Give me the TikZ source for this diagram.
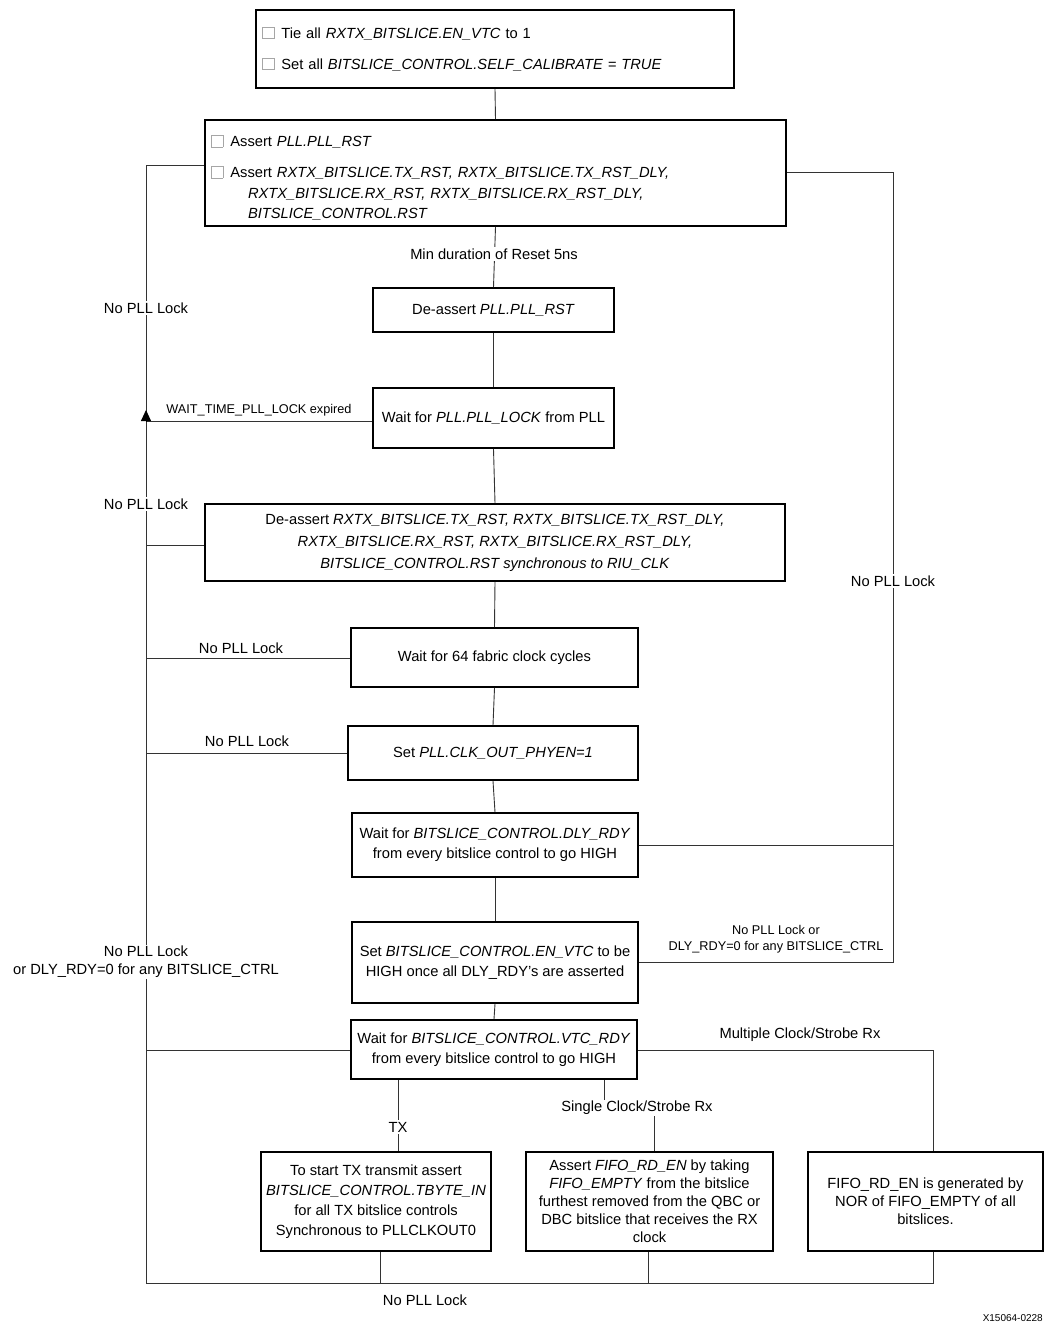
\documentclass[tikz,border=0pt]{standalone}
\usepackage{fontspec}
\setmainfont{Liberation Sans}
\usetikzlibrary{arrows.meta}
\newcommand{\chk}{{\color{gray!70}\fboxsep=0pt\fboxrule=0.7pt\fbox{\phantom{\rule{11pt}{11pt}}}}\hspace{7pt}}
\begin{document}
\begin{tikzpicture}[x=1pt,y=-1pt,
  box/.style={draw=black, line width=1.8pt, inner sep=0pt, align=center,
    font=\fontsize{14.7}{20}\selectfont},
  conn/.style={draw=black!80, line width=0.9pt},
  lbl/.style={fill=white, inner sep=1.5pt, align=center, font=\fontsize{14.7}{18}\selectfont},
  slbl/.style={inner sep=1pt, align=center, font=\fontsize{12.7}{15.5}\selectfont},
  nlbl/.style={inner sep=1pt, align=center, font=\fontsize{14.7}{18}\selectfont}]
\useasboundingbox (0,0) rectangle (1044,1326);
\fill[white] (0,0) rectangle (1044,1326);

% boxes
\node[box, minimum width=478pt, minimum height=78pt, text width=466pt, align=left] (b1) at (495,49)
  {\chk Tie all \textit{RXTX\_BITSLICE.EN\_VTC} to 1\\[11pt]
   \chk Set all \textit{BITSLICE\_CONTROL.SELF\_CALIBRATE = TRUE}};
\node[box, minimum width=581pt, minimum height=106pt, text width=569pt, align=left] (b2) at (495.5,173)
  {\rule{0pt}{21pt}\chk Assert \textit{PLL.PLL\_RST}\\[11pt]
   \chk Assert \textit{RXTX\_BITSLICE.TX\_RST, RXTX\_BITSLICE.TX\_RST\_DLY,}\\[1pt]
   \hspace*{37pt}\textit{RXTX\_BITSLICE.RX\_RST, RXTX\_BITSLICE.RX\_RST\_DLY,}\\
   \hspace*{37pt}\textit{BITSLICE\_CONTROL.RST}};
\node[box, minimum width=241pt, minimum height=44pt] (b3) at (493.5,310)
  {De-assert \textit{PLL.PLL\_RST}};
\node[box, minimum width=241pt, minimum height=60pt] (b4) at (493.5,418)
  {Wait for \textit{PLL.PLL\_LOCK} from PLL};
\node[box, minimum width=580pt, minimum height=77pt, font=\fontsize{14.7}{22}\selectfont] (b5) at (495,542.5)
  {De-assert \textit{RXTX\_BITSLICE.TX\_RST, RXTX\_BITSLICE.TX\_RST\_DLY,}\\
   \textit{RXTX\_BITSLICE.RX\_RST, RXTX\_BITSLICE.RX\_RST\_DLY,}\\
   \textit{BITSLICE\_CONTROL.RST synchronous to RIU\_CLK}};
\node[box, minimum width=287pt, minimum height=59pt] (b6) at (494.5,657.5)
  {Wait for 64 fabric clock cycles};
\node[box, minimum width=290pt, minimum height=54pt] (b7) at (493,753)
  {Set \textit{PLL.CLK\_OUT\_PHYEN=1}};
\node[box, minimum width=286pt, minimum height=64pt] (b8) at (495,845)
  {Wait for \textit{BITSLICE\_CONTROL.DLY\_RDY}\\from every bitslice control to go HIGH};
\node[box, minimum width=286pt, minimum height=81pt] (b9) at (495,962.5)
  {Set \textit{BITSLICE\_CONTROL.EN\_VTC} to be\\HIGH once all DLY\_RDY’s are asserted};
\node[box, minimum width=286pt, minimum height=59pt] (b10) at (494,1049.5)
  {Wait for \textit{BITSLICE\_CONTROL.VTC\_RDY}\\from every bitslice control to go HIGH};
\node[box, minimum width=230pt, minimum height=99pt] (b11) at (376,1201.5)
  {To start TX transmit assert\\\textit{BITSLICE\_CONTROL.TBYTE\_IN}\\for all TX bitslice controls\\Synchronous to PLLCLKOUT0};
\node[box, minimum width=247pt, minimum height=99pt, font=\fontsize{14.7}{18}\selectfont] (b12) at (649.5,1201.5)
  {Assert \textit{FIFO\_RD\_EN} by taking\\\textit{FIFO\_EMPTY} from the bitslice\\furthest removed from the QBC or\\DBC bitslice that receives the RX\\clock};
\node[box, minimum width=235pt, minimum height=99pt, font=\fontsize{14.7}{18}\selectfont] (b13) at (925.5,1201.5)
  {FIFO\_RD\_EN is generated by\\NOR of FIFO\_EMPTY of all\\bitslices.};

% coordinates
\coordinate (lt) at (146,165);
\coordinate (lb) at (146,1283);
\coordinate (rt) at (893,172);
\coordinate (rb) at (893,962);
\coordinate (j4) at (146,421);
\coordinate (j5) at (146,545);
\coordinate (j6) at (146,658);
\coordinate (j7) at (146,753);
\coordinate (j10) at (146,1050);
\coordinate (r8) at (893,845);
\coordinate (m10) at (933,1050);
\coordinate (tx0) at (398,1079);
\coordinate (s10) at (604,1108);
\coordinate (s12) at (654,1108);
\coordinate (t11) at (380,1283);
\coordinate (t12) at (648,1283);
\coordinate (t13) at (933,1283);

% main spine
\draw[conn] (b1.south) -- (b2.north);
\draw[conn] (b2.south) -- (b3.north);
\draw[conn] (b3.south) -- (b4.north);
\draw[conn] (b4.south) -- (b5.north);
\draw[conn] (b5.south) -- (b6.north);
\draw[conn] (b6.south) -- (b7.north);
\draw[conn] (b7.south) -- (b8.north);
\draw[conn] (b8.south) -- (b9.north);
\draw[conn] (b9.south) -- (b10.north);

% left trunk
\draw[conn] (b2.west |- lt) -- (lt) -- (lb);
\draw[conn] (b4.west |- j4) -- (j4);
\draw[-{Triangle[length=11pt,width=10pt]}, line width=0.9pt] (j4) -- ++(0,-11);
\draw[conn] (b5.west |- j5) -- (j5);
\draw[conn] (b6.west |- j6) -- (j6);
\draw[conn] (b7.west |- j7) -- (j7);
\draw[conn] (b10.west |- j10) -- (j10);

% right trunk
\draw[conn] (b2.east |- rt) -- (rt) -- (rb) -- (b9.east |- rb);
\draw[conn] (b8.east |- r8) -- (r8);

% branches below b10
\draw[conn] (b10.south -| tx0) -- (tx0 |- b11.north);
\draw[conn] (b10.south -| s10) -- (s10) -- (s12) -- (s12 |- b12.north);
\draw[conn] (b10.east |- m10) -- (m10) -- (m10 |- b13.north);

% bottom collector
\draw[conn] (b11.south -| t11) -- (t11);
\draw[conn] (b12.south -| t12) -- (t12);
\draw[conn] (b13.south -| t13) -- (t13) -- (lb);

% labels on lines
\node[lbl] (lmin) at (494,254) {Min duration of Reset 5ns};
\node[lbl] (lnl1) at (146,308) {No PLL Lock};
\node[lbl] (lnl2) at (146,504) {No PLL Lock};
\node[lbl] (lnl3) at (146,962) {No PLL Lock\\or DLY\_RDY=0 for any BITSLICE\_CTRL};
\node[lbl] (lnlr) at (893,581) {No PLL Lock};
\node[lbl] (ltx) at (398,1127) {TX};
\node[lbl] (lsingle) at (637,1108) {Single Clock/Strobe Rx};
\node[slbl] (lwait) at (259,410) {WAIT\_TIME\_PLL\_LOCK expired};
\node[nlbl] (lnl6) at (241,648) {No PLL Lock};
\node[nlbl] (lnl7) at (247,741) {No PLL Lock};
\node[slbl] (lnl9) at (776,939) {No PLL Lock or\\DLY\_RDY=0 for any BITSLICE\_CTRL};
\node[nlbl] (lmult) at (800,1035) {Multiple Clock/Strobe Rx};
\node[nlbl] (lnlb) at (425,1300) {No PLL Lock};
\node[inner sep=0pt, anchor=east, font=\fontsize{10}{12}\selectfont] (fig) at (1043,1318) {X15064-0228};
\end{tikzpicture}
\end{document}
